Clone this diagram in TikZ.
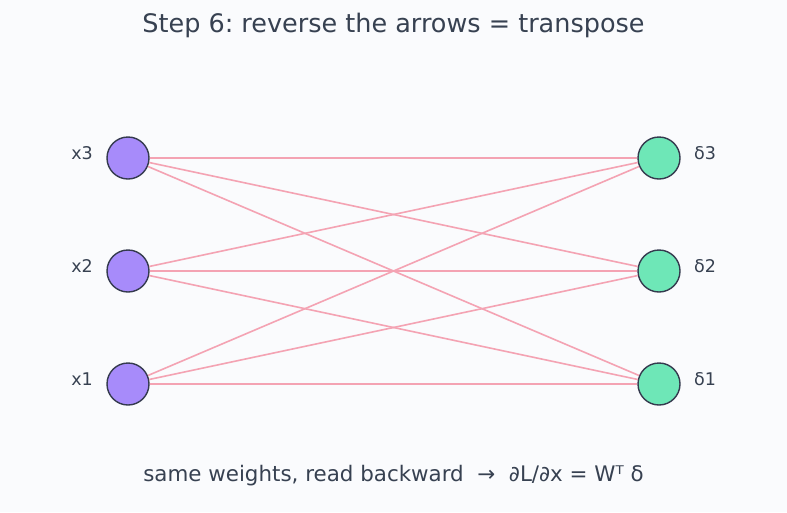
\documentclass[tikz,border=0pt]{standalone}
\usepackage{fontspec}
\setmainfont{DejaVu Sans}
\usepackage{tikz}
\usetikzlibrary{positioning}
\frenchspacing

\definecolor{bgcol}{HTML}{FAFBFD}
\definecolor{txtcol}{HTML}{374151}
\definecolor{incol}{HTML}{A78BFA}
\definecolor{outcol}{HTML}{6EE7B7}
\definecolor{rimcol}{HTML}{343A4E}
\definecolor{wirecol}{HTML}{F4A3B3}

\begin{document}
\begin{tikzpicture}[x=1pt,y=-1pt,
    neuron/.style={shape=circle,draw=rimcol,line width=1.4pt,minimum size=42pt,inner sep=0pt},
    wire/.style={draw=wirecol,line width=1.6pt},
    tag/.style={text=txtcol,font=\fontsize{17.5}{20}\selectfont,inner sep=0pt},]
    \fill[bgcol] (0,0) rectangle (787,512);
    \useasboundingbox (0,0) rectangle (787,512);
	% create layers
    \node (x3) [neuron,fill=incol] at (128,158) {};
    \node (x2) [neuron,fill=incol] at (128,271) {};
    \node (x1) [neuron,fill=incol] at (128,384) {};
    \node (d3) [neuron,fill=outcol] at (659,158) {};
    \node (d2) [neuron,fill=outcol] at (659,271) {};
    \node (d1) [neuron,fill=outcol] at (659,384) {};

	% labels beside the neurons
    \foreach \i in {1,2,3} {
        \node (lx\i) [tag] at (82,{153+113*(3-\i)}) {x\i};
        \node (ld\i) [tag] at (705,{153+113*(3-\i)}) {δ\i};
    }

	% every input meets every delta
    \foreach \i in {1,2,3}
        \foreach \j in {1,2,3}
            \draw[wire] (x\i) -- (d\j);

    \node (title) [text=txtcol,font=\fontsize{25.5}{30}\selectfont] at (393.5,25) {Step 6: reverse the arrows = transpose};
    \node (note) [text=txtcol,font=\fontsize{21.4}{24}\selectfont] at (393.5,476) {same weights, read backward \ → \ ∂L/∂x = Wᵀ δ};
\end{tikzpicture}
\end{document}
